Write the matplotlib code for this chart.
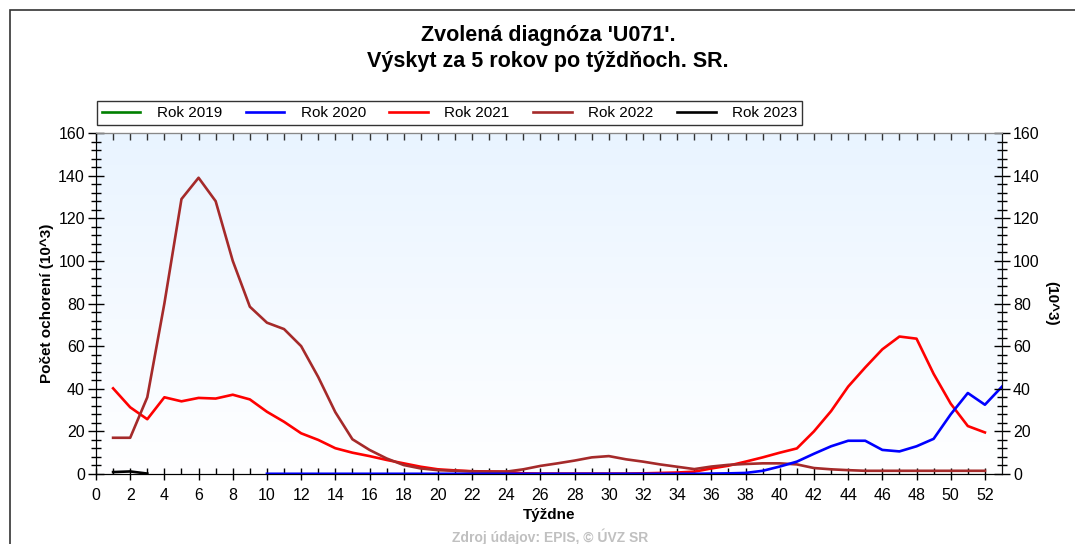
import matplotlib.pyplot as plt
import numpy as np
from matplotlib.patches import Rectangle
from matplotlib.colors import LinearSegmentedColormap

plt.rcParams['font.family'] = ['Liberation Sans', 'DejaVu Sans']

nan = np.nan
weeks = np.arange(1, 54)

# hodnoty v tisicoch (10^3), tyzden 1..53
rok2019 = [nan] * 53
rok2020 = [nan] * 9 + [0.1] * 26 + [0.2, 0.3, 0.5, 1.5, 3.5, 5.8, 9.5, 13.0, 15.6, 15.6,
                                   11.3, 10.6, 13.0, 16.5, 28.0, 38.0, 32.5, 41.0]
rok2021 = [40.2, 31.3, 25.7, 36.0, 34.1, 35.7, 35.4, 37.2, 35.0, 29.2,
           24.5, 19.1, 16.0, 12.1, 10.0, 8.4, 6.6, 5.0, 3.4, 2.2,
           1.7, 1.3, 1.2, 1.1, 0.3, 0.2, 0.2, 0.2, 0.2, 0.2,
           0.2, 0.3, 0.5, 0.7, 1.1, 2.6, 3.9, 5.8, 7.8, 10.0,
           12.0, 20.0, 29.5, 41.0, 50.0, 58.5, 64.5, 63.5, 47.0, 33.0,
           22.5, 19.5, nan]
rok2022 = [17.0, 17.0, 36.0, 80.0, 129.0, 139.0, 128.0, 100.0, 78.5, 71.0,
           68.0, 60.0, 45.5, 29.0, 16.3, 11.3, 7.3, 4.2, 2.6, 1.8,
           1.5, 1.2, 1.1, 1.1, 2.2, 3.8, 5.0, 6.3, 7.8, 8.4,
           6.9, 5.8, 4.5, 3.4, 2.3, 3.5, 4.3, 4.7, 5.0, 5.0,
           4.5, 2.8, 2.2, 1.8, 1.5, 1.5, 1.5, 1.5, 1.5, 1.5,
           1.5, 1.5, nan]
rok2023 = [0.9, 1.2, 0.2] + [nan] * 50

series = [('Rok 2019', rok2019, '#008000', 2),
          ('Rok 2020', rok2020, '#0000ff', 4),
          ('Rok 2021', rok2021, '#ff0000', 3),
          ('Rok 2022', rok2022, '#a52a2a', 3.5),
          ('Rok 2023', rok2023, '#000000', 5)]

W, H = 1075, 544
fig = plt.figure(figsize=(W / 100, H / 100), dpi=100)
fig.patch.set_facecolor('white')
fig.patches.append(Rectangle((10 / W, -0.1), 1.2, (H - 10) / H + 0.1, transform=fig.transFigure,
                             fill=False, edgecolor='#333333', lw=1.2))

ax = fig.add_axes([96 / W, (H - 474) / H, (1002 - 96) / W, (474 - 133) / H])

# pozadie s prechodom
grad = np.linspace(0, 1, 256).reshape(-1, 1)
ax.imshow(grad, extent=[0, 53, 0, 160], aspect='auto', origin='lower',
          cmap=LinearSegmentedColormap.from_list('bg', ['#ffffff', '#e9f4ff']), zorder=0)

for name, vals, col, z in series:
    ax.plot(weeks, vals, color=col, lw=1.9, label=name, zorder=z)

ax.set_xlim(0, 53)
ax.set_ylim(0, 160)
ax.set_xticks(np.arange(0, 53, 2))
ax.set_xticks(np.arange(1, 53, 2), minor=True)
ax.set_yticks(np.arange(0, 161, 20))
ax.set_yticks(np.arange(0, 161, 4), minor=True)
ax.tick_params(axis='x', which='major', direction='inout', length=8, width=1, labelsize=11.5, pad=6)
ax.tick_params(axis='x', which='minor', direction='in', length=4, width=1)
ax.tick_params(axis='y', which='major', direction='inout', length=12, width=1, labelsize=11.5, pad=2)
ax.tick_params(axis='y', which='minor', direction='inout', length=7, width=1)
for s in ['left', 'bottom', 'right']:
    ax.spines[s].set_color('#111111')
ax.spines['top'].set_color('#888888')

# horne ticky smerom dnu
top = ax.secondary_xaxis('top')
top.set_xticks(np.arange(0, 53, 1))
top.tick_params(direction='in', length=5, width=1, labeltop=False, color='#333333')
top.spines['top'].set_color('#888888')

ax2 = ax.twinx()
ax2.set_ylim(0, 160)
ax2.set_yticks(np.arange(0, 161, 20))
ax2.set_yticks(np.arange(0, 161, 4), minor=True)
ax2.tick_params(axis='y', which='major', direction='inout', length=12, width=1, labelsize=11.5, pad=2)
ax2.tick_params(axis='y', which='minor', direction='inout', length=7, width=1)
ax2.spines['right'].set_color('#111111')
ax2.spines['top'].set_color('#888888')

ax.set_ylabel('Počet ochorení (10^3)', fontsize=11, fontweight='bold', labelpad=3)
ax2.set_ylabel('(10^3)', fontsize=11, fontweight='bold', rotation=270, labelpad=13)
ax.set_xlabel('Týždne', fontsize=11, fontweight='bold', labelpad=4)

fig.text(548 / W, 1 - 36 / H, "Zvolená diagnóza 'U071'.", ha='center', va='center',
         fontsize=15.5, fontweight='bold')
fig.text(548 / W, 1 - 61 / H, 'Výskyt za 5 rokov po týždňoch. SR.', ha='center', va='center',
         fontsize=15.5, fontweight='bold')

leg = fig.legend(loc='center left', bbox_to_anchor=(97 / W, 1 - 113 / H), ncol=5,
                 fontsize=11, frameon=True, fancybox=False, borderpad=0.3, borderaxespad=0,
                 handlelength=2.5, columnspacing=1.55, handletextpad=1.1)
leg.get_frame().set_edgecolor('black')
leg.get_frame().set_linewidth(1)

fig.text(550 / W, 1 - 537 / H, 'Zdroj údajov: EPIS, © ÚVZ SR', ha='center', va='center',
         fontsize=10, fontweight='bold', color='#c0c0c0')

fig.savefig('out.png', dpi=100)
